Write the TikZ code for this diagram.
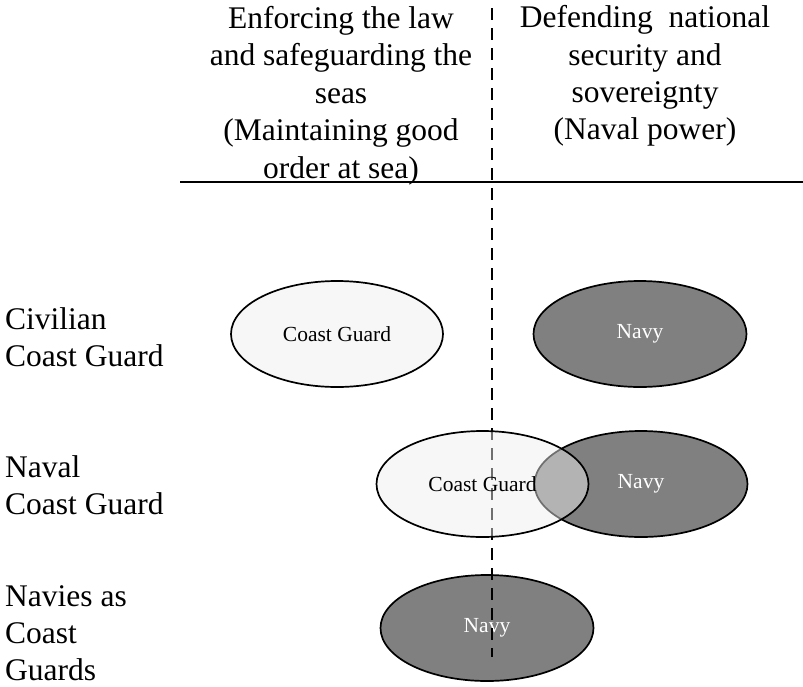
\documentclass[tikz,border=0pt]{standalone}
\usepackage{fontspec}
\setmainfont{Liberation Serif}
\usetikzlibrary{shapes.geometric}
\begin{document}
\begin{tikzpicture}[x=1pt,y=-1pt,
  cgstyle/.style={ellipse,draw=black,line width=1.7pt,fill=cgfill,fill opacity=0.465,text opacity=1,
     minimum width=212pt,minimum height=106pt,inner sep=0pt,font=\fontsize{21.5}{24}\selectfont},
  navystyle/.style={ellipse,draw=black,line width=1.7pt,fill=navyfill,text=white,
     minimum width=213pt,minimum height=106pt,inner sep=0pt,font=\fontsize{21.5}{24}\selectfont},
  headstyle/.style={align=center,inner sep=0pt,font=\fontsize{31.5}{37.4}\selectfont},
  labelstyle/.style={align=left,anchor=west,inner sep=0pt,font=\fontsize{31.5}{37}\selectfont},
  divider/.style={line width=1.6pt,dash pattern=on 12pt off 8pt}]
\definecolor{cgfill}{RGB}{238,238,238}
\definecolor{navyfill}{RGB}{128,128,128}
\useasboundingbox (0,0) rectangle (803,686);
% header
\node[headstyle] (hleft) at (341,95.5) {Enforcing the law\\and safeguarding the\\seas\\(Maintaining good\\order at sea)};
\node[headstyle] (hright) at (645,76) {Defending\ \ national\\security and\\sovereignty\\(Naval power)};
\coordinate (hl0) at (180,182);
\coordinate (hl1) at (803,182);
\draw[line width=2pt] (hl0) -- (hl1);
% row labels
\node[labelstyle] (l1) at (5,337) {Civilian\\Coast Guard};
\node[labelstyle] (l2) at (5,485) {Naval\\Coast Guard};
\node[labelstyle] (l3) at (5,633) {Navies as\\Coast\\Guards};
% ellipses
\node[cgstyle] (cg1) at (337,334) {Coast Guard};
\node[navystyle] (nv1) at (640,334) {Navy};
\node[navystyle] (nv2) at (641,484) {Navy};
\node[navystyle] (nv3) at (487,628) {Navy};
% divider
\coordinate (d0) at (492,8);
\coordinate (d1) at (492,657);
\draw[divider] (d0) -- (d1);
\node[cgstyle] (cg2) at (482.5,484) {Coast Guard};
\end{tikzpicture}
\end{document}
